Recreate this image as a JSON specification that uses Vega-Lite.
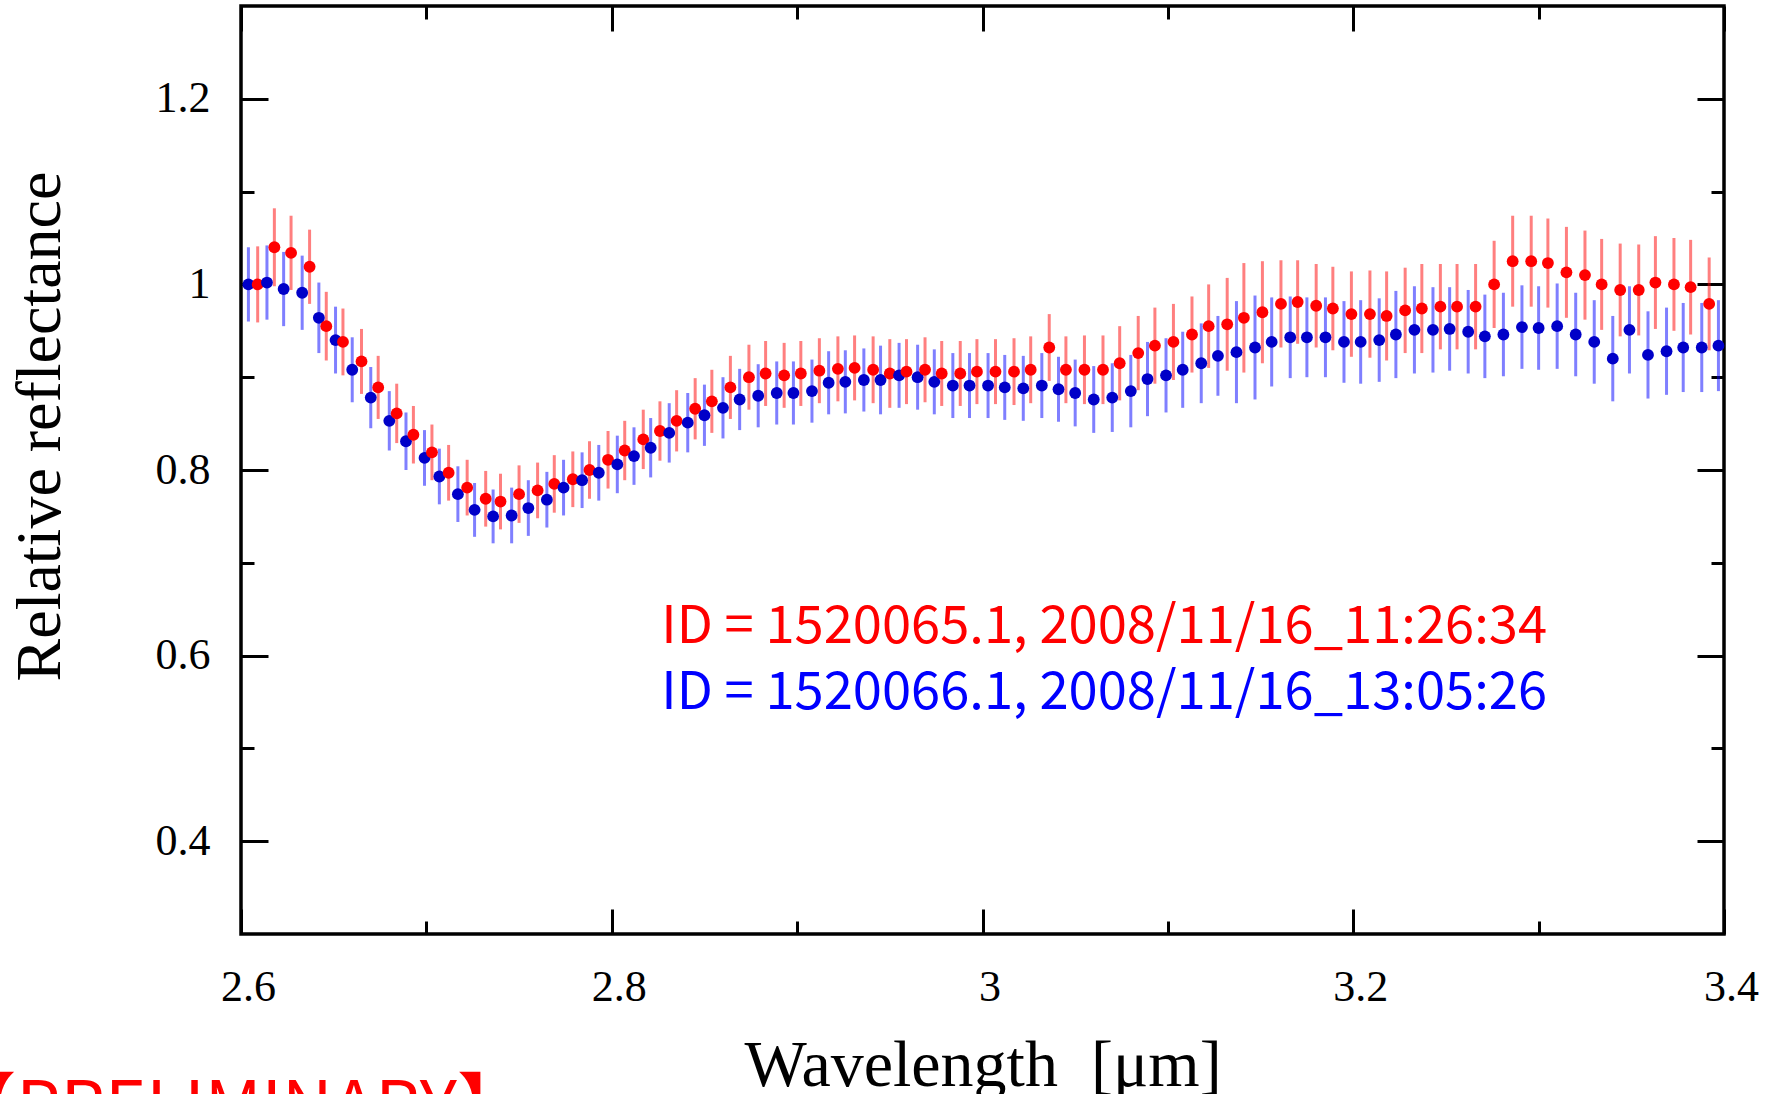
{
  "$schema": "https://vega.github.io/schema/vega-lite/v6.json",
  "width": 1483,
  "height": 928,
  "autosize": {"type": "none"},
  "padding": {"left": 241, "top": 6, "right": 57, "bottom": 160},
  "background": "#ffffff",
  "config": {
    "view": {"stroke": "#000000", "strokeWidth": 3.5},
    "axis": {
      "domain": false, "grid": false, "tickColor": "#000000", "tickWidth": 3,
      "labelFont": "Liberation Serif", "labelFontSize": 44, "labelColor": "#000000",
      "labelFlush": false, "labelOverlap": false, "labelBound": false,
      "titleFont": "Liberation Serif", "titleFontSize": 62, "titleFontWeight": "normal", "titleColor": "#000000",
      "format": "~g"
    }
  },
  "datasets": {
    "spec": [
    {"s":"b","x":2.604,"y":1.000,"lo":0.960,"hi":1.040},
    {"s":"r","x":2.609,"y":1.000,"lo":0.959,"hi":1.041},
    {"s":"b","x":2.614,"y":1.002,"lo":0.962,"hi":1.042},
    {"s":"r","x":2.618,"y":1.040,"lo":0.998,"hi":1.082},
    {"s":"b","x":2.623,"y":0.995,"lo":0.955,"hi":1.035},
    {"s":"r","x":2.627,"y":1.034,"lo":0.994,"hi":1.074},
    {"s":"b","x":2.633,"y":0.991,"lo":0.951,"hi":1.031},
    {"s":"r","x":2.637,"y":1.019,"lo":0.979,"hi":1.059},
    {"s":"b","x":2.642,"y":0.964,"lo":0.926,"hi":1.002},
    {"s":"r","x":2.646,"y":0.955,"lo":0.918,"hi":0.992},
    {"s":"b","x":2.651,"y":0.940,"lo":0.904,"hi":0.976},
    {"s":"r","x":2.655,"y":0.938,"lo":0.902,"hi":0.974},
    {"s":"b","x":2.660,"y":0.908,"lo":0.873,"hi":0.943},
    {"s":"r","x":2.665,"y":0.917,"lo":0.882,"hi":0.952},
    {"s":"b","x":2.670,"y":0.878,"lo":0.845,"hi":0.911},
    {"s":"r","x":2.674,"y":0.889,"lo":0.855,"hi":0.923},
    {"s":"b","x":2.680,"y":0.853,"lo":0.821,"hi":0.885},
    {"s":"r","x":2.684,"y":0.861,"lo":0.829,"hi":0.893},
    {"s":"b","x":2.689,"y":0.831,"lo":0.800,"hi":0.862},
    {"s":"r","x":2.693,"y":0.838,"lo":0.807,"hi":0.869},
    {"s":"b","x":2.699,"y":0.813,"lo":0.783,"hi":0.843},
    {"s":"r","x":2.703,"y":0.819,"lo":0.789,"hi":0.849},
    {"s":"b","x":2.707,"y":0.793,"lo":0.763,"hi":0.823},
    {"s":"r","x":2.712,"y":0.797,"lo":0.767,"hi":0.827},
    {"s":"b","x":2.717,"y":0.774,"lo":0.744,"hi":0.804},
    {"s":"r","x":2.722,"y":0.781,"lo":0.751,"hi":0.811},
    {"s":"b","x":2.726,"y":0.757,"lo":0.728,"hi":0.786},
    {"s":"r","x":2.732,"y":0.769,"lo":0.739,"hi":0.799},
    {"s":"b","x":2.736,"y":0.750,"lo":0.721,"hi":0.779},
    {"s":"r","x":2.740,"y":0.766,"lo":0.736,"hi":0.796},
    {"s":"b","x":2.746,"y":0.751,"lo":0.721,"hi":0.781},
    {"s":"r","x":2.750,"y":0.774,"lo":0.743,"hi":0.805},
    {"s":"b","x":2.755,"y":0.759,"lo":0.729,"hi":0.789},
    {"s":"r","x":2.760,"y":0.778,"lo":0.748,"hi":0.808},
    {"s":"b","x":2.765,"y":0.768,"lo":0.738,"hi":0.798},
    {"s":"r","x":2.769,"y":0.785,"lo":0.754,"hi":0.816},
    {"s":"b","x":2.774,"y":0.781,"lo":0.751,"hi":0.811},
    {"s":"r","x":2.779,"y":0.790,"lo":0.760,"hi":0.820},
    {"s":"b","x":2.784,"y":0.789,"lo":0.759,"hi":0.819},
    {"s":"r","x":2.788,"y":0.800,"lo":0.769,"hi":0.831},
    {"s":"b","x":2.793,"y":0.797,"lo":0.767,"hi":0.827},
    {"s":"r","x":2.798,"y":0.811,"lo":0.780,"hi":0.842},
    {"s":"b","x":2.803,"y":0.806,"lo":0.775,"hi":0.837},
    {"s":"r","x":2.807,"y":0.821,"lo":0.789,"hi":0.853},
    {"s":"b","x":2.812,"y":0.815,"lo":0.784,"hi":0.846},
    {"s":"r","x":2.817,"y":0.833,"lo":0.801,"hi":0.865},
    {"s":"b","x":2.821,"y":0.824,"lo":0.792,"hi":0.856},
    {"s":"r","x":2.826,"y":0.842,"lo":0.810,"hi":0.874},
    {"s":"b","x":2.831,"y":0.840,"lo":0.808,"hi":0.872},
    {"s":"r","x":2.835,"y":0.853,"lo":0.820,"hi":0.886},
    {"s":"b","x":2.841,"y":0.851,"lo":0.819,"hi":0.883},
    {"s":"r","x":2.845,"y":0.866,"lo":0.833,"hi":0.899},
    {"s":"b","x":2.850,"y":0.859,"lo":0.826,"hi":0.892},
    {"s":"r","x":2.854,"y":0.874,"lo":0.840,"hi":0.908},
    {"s":"b","x":2.860,"y":0.867,"lo":0.834,"hi":0.900},
    {"s":"r","x":2.864,"y":0.889,"lo":0.855,"hi":0.923},
    {"s":"b","x":2.869,"y":0.876,"lo":0.843,"hi":0.909},
    {"s":"r","x":2.874,"y":0.900,"lo":0.865,"hi":0.935},
    {"s":"b","x":2.879,"y":0.880,"lo":0.846,"hi":0.914},
    {"s":"r","x":2.883,"y":0.904,"lo":0.869,"hi":0.939},
    {"s":"b","x":2.889,"y":0.883,"lo":0.849,"hi":0.917},
    {"s":"r","x":2.893,"y":0.902,"lo":0.867,"hi":0.937},
    {"s":"b","x":2.898,"y":0.883,"lo":0.849,"hi":0.917},
    {"s":"r","x":2.902,"y":0.904,"lo":0.869,"hi":0.939},
    {"s":"b","x":2.908,"y":0.885,"lo":0.851,"hi":0.919},
    {"s":"r","x":2.912,"y":0.907,"lo":0.872,"hi":0.942},
    {"s":"b","x":2.917,"y":0.894,"lo":0.860,"hi":0.928},
    {"s":"r","x":2.922,"y":0.909,"lo":0.874,"hi":0.944},
    {"s":"b","x":2.926,"y":0.895,"lo":0.861,"hi":0.929},
    {"s":"r","x":2.931,"y":0.910,"lo":0.875,"hi":0.945},
    {"s":"b","x":2.936,"y":0.897,"lo":0.863,"hi":0.931},
    {"s":"r","x":2.941,"y":0.908,"lo":0.872,"hi":0.944},
    {"s":"b","x":2.945,"y":0.897,"lo":0.860,"hi":0.934},
    {"s":"r","x":2.950,"y":0.904,"lo":0.867,"hi":0.941},
    {"s":"b","x":2.955,"y":0.902,"lo":0.867,"hi":0.937},
    {"s":"r","x":2.959,"y":0.906,"lo":0.871,"hi":0.941},
    {"s":"b","x":2.965,"y":0.900,"lo":0.865,"hi":0.935},
    {"s":"r","x":2.969,"y":0.908,"lo":0.873,"hi":0.943},
    {"s":"b","x":2.974,"y":0.895,"lo":0.860,"hi":0.930},
    {"s":"r","x":2.978,"y":0.904,"lo":0.869,"hi":0.939},
    {"s":"b","x":2.984,"y":0.891,"lo":0.856,"hi":0.926},
    {"s":"r","x":2.988,"y":0.904,"lo":0.869,"hi":0.939},
    {"s":"b","x":2.993,"y":0.891,"lo":0.856,"hi":0.926},
    {"s":"r","x":2.997,"y":0.906,"lo":0.871,"hi":0.941},
    {"s":"b","x":3.003,"y":0.891,"lo":0.856,"hi":0.926},
    {"s":"r","x":3.007,"y":0.906,"lo":0.871,"hi":0.941},
    {"s":"b","x":3.012,"y":0.889,"lo":0.854,"hi":0.924},
    {"s":"r","x":3.017,"y":0.906,"lo":0.870,"hi":0.942},
    {"s":"b","x":3.022,"y":0.888,"lo":0.853,"hi":0.923},
    {"s":"r","x":3.026,"y":0.908,"lo":0.872,"hi":0.944},
    {"s":"b","x":3.032,"y":0.891,"lo":0.856,"hi":0.926},
    {"s":"r","x":3.036,"y":0.932,"lo":0.896,"hi":0.968},
    {"s":"b","x":3.041,"y":0.887,"lo":0.852,"hi":0.922},
    {"s":"r","x":3.045,"y":0.908,"lo":0.872,"hi":0.944},
    {"s":"b","x":3.050,"y":0.883,"lo":0.847,"hi":0.919},
    {"s":"r","x":3.055,"y":0.908,"lo":0.871,"hi":0.945},
    {"s":"b","x":3.060,"y":0.876,"lo":0.840,"hi":0.912},
    {"s":"r","x":3.065,"y":0.908,"lo":0.871,"hi":0.945},
    {"s":"b","x":3.070,"y":0.878,"lo":0.841,"hi":0.915},
    {"s":"r","x":3.074,"y":0.915,"lo":0.875,"hi":0.955},
    {"s":"b","x":3.080,"y":0.885,"lo":0.846,"hi":0.924},
    {"s":"r","x":3.084,"y":0.926,"lo":0.886,"hi":0.966},
    {"s":"b","x":3.089,"y":0.898,"lo":0.858,"hi":0.938},
    {"s":"r","x":3.093,"y":0.934,"lo":0.893,"hi":0.975},
    {"s":"b","x":3.099,"y":0.902,"lo":0.862,"hi":0.942},
    {"s":"r","x":3.103,"y":0.938,"lo":0.897,"hi":0.979},
    {"s":"b","x":3.108,"y":0.908,"lo":0.867,"hi":0.949},
    {"s":"r","x":3.113,"y":0.946,"lo":0.905,"hi":0.987},
    {"s":"b","x":3.118,"y":0.915,"lo":0.872,"hi":0.958},
    {"s":"r","x":3.122,"y":0.955,"lo":0.910,"hi":1.000},
    {"s":"b","x":3.127,"y":0.923,"lo":0.880,"hi":0.966},
    {"s":"r","x":3.132,"y":0.957,"lo":0.907,"hi":1.007},
    {"s":"b","x":3.137,"y":0.927,"lo":0.872,"hi":0.982},
    {"s":"r","x":3.141,"y":0.964,"lo":0.905,"hi":1.023},
    {"s":"b","x":3.147,"y":0.932,"lo":0.876,"hi":0.988},
    {"s":"r","x":3.151,"y":0.970,"lo":0.915,"hi":1.025},
    {"s":"b","x":3.156,"y":0.938,"lo":0.890,"hi":0.986},
    {"s":"r","x":3.161,"y":0.979,"lo":0.932,"hi":1.026},
    {"s":"b","x":3.166,"y":0.943,"lo":0.899,"hi":0.987},
    {"s":"r","x":3.170,"y":0.981,"lo":0.936,"hi":1.026},
    {"s":"b","x":3.175,"y":0.943,"lo":0.900,"hi":0.986},
    {"s":"r","x":3.180,"y":0.977,"lo":0.932,"hi":1.022},
    {"s":"b","x":3.185,"y":0.943,"lo":0.900,"hi":0.986},
    {"s":"r","x":3.189,"y":0.974,"lo":0.929,"hi":1.019},
    {"s":"b","x":3.195,"y":0.938,"lo":0.894,"hi":0.982},
    {"s":"r","x":3.199,"y":0.968,"lo":0.922,"hi":1.014},
    {"s":"b","x":3.204,"y":0.938,"lo":0.893,"hi":0.983},
    {"s":"r","x":3.209,"y":0.968,"lo":0.921,"hi":1.015},
    {"s":"b","x":3.214,"y":0.940,"lo":0.895,"hi":0.985},
    {"s":"r","x":3.218,"y":0.966,"lo":0.918,"hi":1.014},
    {"s":"b","x":3.223,"y":0.946,"lo":0.899,"hi":0.993},
    {"s":"r","x":3.228,"y":0.972,"lo":0.926,"hi":1.018},
    {"s":"b","x":3.233,"y":0.951,"lo":0.904,"hi":0.998},
    {"s":"r","x":3.237,"y":0.974,"lo":0.926,"hi":1.022},
    {"s":"b","x":3.243,"y":0.951,"lo":0.905,"hi":0.997},
    {"s":"r","x":3.247,"y":0.976,"lo":0.930,"hi":1.022},
    {"s":"b","x":3.252,"y":0.952,"lo":0.907,"hi":0.997},
    {"s":"r","x":3.256,"y":0.976,"lo":0.930,"hi":1.022},
    {"s":"b","x":3.262,"y":0.949,"lo":0.904,"hi":0.994},
    {"s":"r","x":3.266,"y":0.976,"lo":0.930,"hi":1.022},
    {"s":"b","x":3.271,"y":0.944,"lo":0.899,"hi":0.989},
    {"s":"r","x":3.276,"y":1.000,"lo":0.953,"hi":1.047},
    {"s":"b","x":3.281,"y":0.946,"lo":0.901,"hi":0.991},
    {"s":"r","x":3.286,"y":1.025,"lo":0.976,"hi":1.074},
    {"s":"b","x":3.291,"y":0.954,"lo":0.909,"hi":0.999},
    {"s":"r","x":3.296,"y":1.025,"lo":0.976,"hi":1.074},
    {"s":"b","x":3.300,"y":0.953,"lo":0.908,"hi":0.998},
    {"s":"r","x":3.305,"y":1.023,"lo":0.975,"hi":1.071},
    {"s":"b","x":3.310,"y":0.955,"lo":0.909,"hi":1.001},
    {"s":"r","x":3.315,"y":1.013,"lo":0.964,"hi":1.062},
    {"s":"b","x":3.320,"y":0.946,"lo":0.901,"hi":0.991},
    {"s":"r","x":3.325,"y":1.010,"lo":0.962,"hi":1.058},
    {"s":"b","x":3.330,"y":0.938,"lo":0.893,"hi":0.983},
    {"s":"r","x":3.334,"y":1.000,"lo":0.951,"hi":1.049},
    {"s":"b","x":3.340,"y":0.920,"lo":0.874,"hi":0.966},
    {"s":"r","x":3.344,"y":0.994,"lo":0.944,"hi":1.044},
    {"s":"b","x":3.349,"y":0.951,"lo":0.904,"hi":0.998},
    {"s":"r","x":3.354,"y":0.994,"lo":0.945,"hi":1.043},
    {"s":"b","x":3.359,"y":0.924,"lo":0.877,"hi":0.971},
    {"s":"r","x":3.363,"y":1.002,"lo":0.952,"hi":1.052},
    {"s":"b","x":3.369,"y":0.928,"lo":0.881,"hi":0.975},
    {"s":"r","x":3.373,"y":1.000,"lo":0.950,"hi":1.050},
    {"s":"b","x":3.378,"y":0.932,"lo":0.884,"hi":0.980},
    {"s":"r","x":3.382,"y":0.997,"lo":0.946,"hi":1.048},
    {"s":"b","x":3.388,"y":0.932,"lo":0.884,"hi":0.980},
    {"s":"r","x":3.392,"y":0.979,"lo":0.929,"hi":1.029},
    {"s":"b","x":3.397,"y":0.934,"lo":0.885,"hi":0.983}
    ],
    "one": [{"k": 1}]
  },
  "data": {"name": "spec"},
  "layer": [
    {
      "mark": {"type": "point", "opacity": 0},
      "encoding": {
        "x": {"field": "x", "type": "quantitative", "scale": {"domain": [2.6, 3.4], "nice": false, "zero": false},
              "axis": {"orient": "bottom", "values": [2.6, 2.8, 3, 3.2, 3.4], "tickSize": -25, "labelPadding": 56, "labelOffset": 7,
                       "title": "Wavelength\u00a0 [μm]", "titlePadding": 24, "titleFontSize": 66}},
        "y": {"field": "y", "type": "quantitative", "scale": {"domain": [0.3, 1.3], "nice": false, "zero": false},
              "axis": {"orient": "left", "values": [0.4, 0.6, 0.8, 1, 1.2], "tickSize": -27, "labelPadding": 58,
                       "title": "Relative reflectance", "titlePadding": 83, "titleY": 420, "titleFontSize": 64}}
      }
    },
    {
      "mark": {"type": "point", "opacity": 0},
      "encoding": {
        "x": {"field": "x", "type": "quantitative", "scale": {"domain": [2.6, 3.4], "nice": false, "zero": false},
              "axis": {"orient": "bottom", "values": [2.7, 2.9, 3.1, 3.3], "tickSize": -13, "labels": false, "title": null}},
        "y": {"field": "y", "type": "quantitative", "scale": {"domain": [0.3, 1.3], "nice": false, "zero": false},
              "axis": {"orient": "left", "values": [0.5, 0.7, 0.9, 1.1], "tickSize": -13, "labels": false, "title": null}}
      }
    },
    {
      "mark": {"type": "point", "opacity": 0},
      "encoding": {
        "x": {"field": "x", "type": "quantitative", "scale": {"domain": [2.6, 3.4], "nice": false, "zero": false},
              "axis": {"orient": "top", "values": [2.6, 2.8, 3, 3.2, 3.4], "tickSize": -25, "labels": false, "title": null}},
        "y": {"field": "y", "type": "quantitative", "scale": {"domain": [0.3, 1.3], "nice": false, "zero": false},
              "axis": {"orient": "right", "values": [0.4, 0.6, 0.8, 1, 1.2], "tickSize": -27, "labels": false, "title": null}}
      }
    },
    {
      "mark": {"type": "point", "opacity": 0},
      "encoding": {
        "x": {"field": "x", "type": "quantitative", "scale": {"domain": [2.6, 3.4], "nice": false, "zero": false},
              "axis": {"orient": "top", "values": [2.7, 2.9, 3.1, 3.3], "tickSize": -13, "labels": false, "title": null}},
        "y": {"field": "y", "type": "quantitative", "scale": {"domain": [0.3, 1.3], "nice": false, "zero": false},
              "axis": {"orient": "right", "values": [0.5, 0.7, 0.9, 1.1], "tickSize": -13, "labels": false, "title": null}}
      }
    },
    {
      "mark": {"type": "rule", "strokeWidth": 3, "opacity": 0.5},
      "encoding": {
        "x": {"field": "x", "type": "quantitative", "scale": {"domain": [2.6, 3.4], "nice": false, "zero": false}, "axis": null},
        "y": {"field": "lo", "type": "quantitative", "scale": {"domain": [0.3, 1.3], "nice": false, "zero": false}, "axis": null},
        "y2": {"field": "hi"},
        "color": {"field": "s", "type": "nominal", "scale": {"domain": ["r", "b"], "range": ["#ff0000", "#0000ff"]}, "legend": null}
      }
    },
    {
      "mark": {"type": "point", "filled": true, "size": 140, "opacity": 1, "shape": "circle"},
      "encoding": {
        "x": {"field": "x", "type": "quantitative", "scale": {"domain": [2.6, 3.4], "nice": false, "zero": false}, "axis": null},
        "y": {"field": "y", "type": "quantitative", "scale": {"domain": [0.3, 1.3], "nice": false, "zero": false}, "axis": null},
        "color": {"field": "s", "type": "nominal", "scale": {"domain": ["r", "b"], "range": ["#ff0000", "#0000c8"]}, "legend": null}
      }
    },
    {
      "data": {"name": "one"},
      "mark": {"type": "text", "text": "ID = 1520065.1, 2008/11/16_11:26:34", "font": "Noto Sans CJK JP", "fontSize": 52.5, "color": "#ff0000", "align": "left", "baseline": "alphabetic"},
      "encoding": {
        "x": {"datum": 2.8267, "type": "quantitative", "scale": {"domain": [2.6, 3.4], "nice": false, "zero": false}, "axis": null},
        "y": {"datum": 0.614, "type": "quantitative", "scale": {"domain": [0.3, 1.3], "nice": false, "zero": false}, "axis": null}
      }
    },
    {
      "data": {"name": "one"},
      "mark": {"type": "text", "text": "ID = 1520066.1, 2008/11/16_13:05:26", "font": "Noto Sans CJK JP", "fontSize": 52.5, "color": "#0000ff", "align": "left", "baseline": "alphabetic"},
      "encoding": {
        "x": {"datum": 2.8267, "type": "quantitative", "scale": {"domain": [2.6, 3.4], "nice": false, "zero": false}, "axis": null},
        "y": {"datum": 0.542, "type": "quantitative", "scale": {"domain": [0.3, 1.3], "nice": false, "zero": false}, "axis": null}
      }
    },
    {
      "data": {"name": "one"},
      "mark": {"type": "text", "text": "【PRELIMINARY】", "font": "Noto Sans CJK JP", "fontSize": 70, "color": "#ff0000", "align": "left", "baseline": "alphabetic"},
      "encoding": {
        "x": {"datum": 2.441, "type": "quantitative", "scale": {"domain": [2.6, 3.4], "nice": false, "zero": false}, "axis": null},
        "y": {"datum": 0.088, "type": "quantitative", "scale": {"domain": [0.3, 1.3], "nice": false, "zero": false}, "axis": null}
      }
    }
  ],
  "resolve": {"axis": {"x": "independent", "y": "independent"}, "scale": {"color": "independent"}}
}
